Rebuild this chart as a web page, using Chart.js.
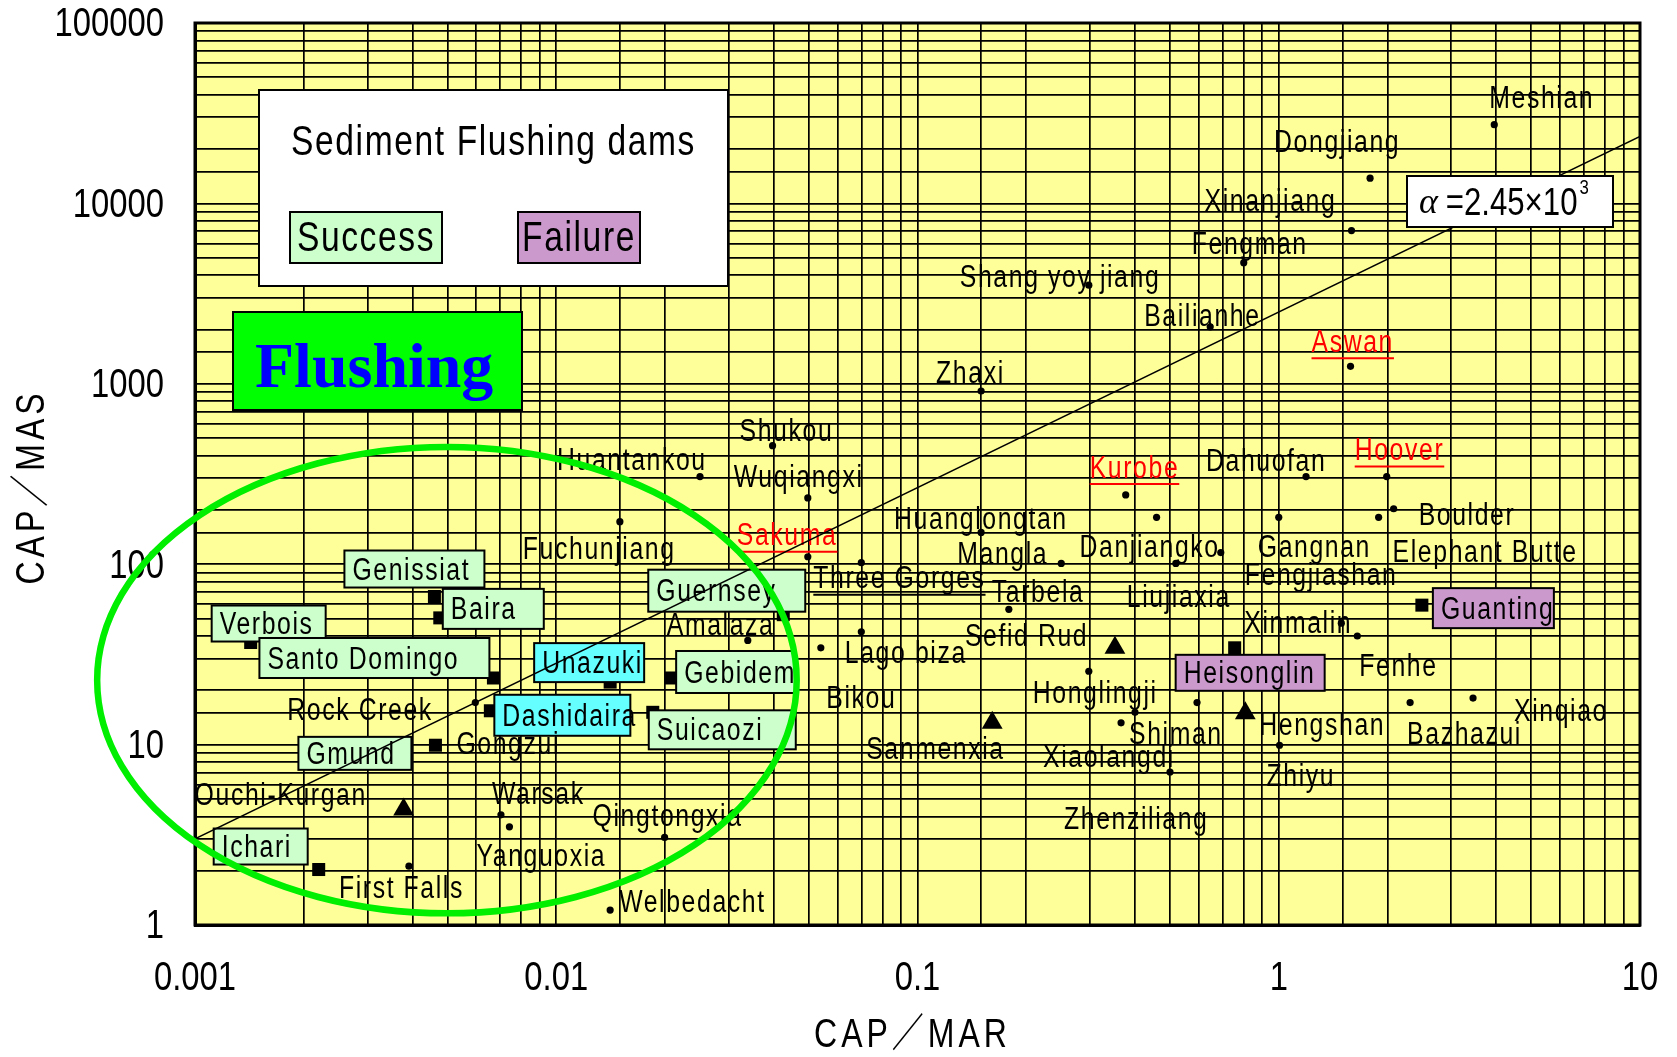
<!DOCTYPE html>
<html>
<head>
<meta charset="utf-8">
<title>Sediment flushing dams</title>
<script src="https://cdn.jsdelivr.net/npm/chart.js@4.4.1/dist/chart.umd.min.js"></script>
<style>
  html, body { margin: 0; padding: 0; background: #fff; }
  canvas { display: block; }
</style>
</head>
<body>
<canvas id="flushing-chart" width="1677" height="1057"></canvas>
<script>
// dam name, CAP/MAR, CAP/MAS, plotted symbol
const damNames = [
  'Meshian', 'Dongjiang', 'Xinanjiang', 'Fengman', 'Shang yoy jiang', 'Bailianhe', 'Aswan', 'Zhaxi',
  'Shukou', 'Huantankou', 'Wuqiangxi', 'Kurobe', 'Dahuofan', 'Hoover', 'Boulder', 'Elephant Butte',
  'Huanglongtan', 'Fuchunjiang', 'Sakuma', 'Mangla', 'Danjiangko', 'Gangnan', 'Fengjiashan', 'Liujiaxia',
  'Three Gorges', 'Tarbela', 'Amalaza', 'Lago biza', 'Bikou', 'Sefid Rud', 'Honglingji', 'Sanmenxia',
  'Xiaolangdi', 'Shiman', 'Hengshan', 'Zhiyu', 'Zhenziliang', 'Xinmalin', 'Fenhe', 'Bazhazui',
  'Xinqiao', '', 'Verbois', 'Genissiat', 'Baira', 'Santo Domingo', 'Unazuki', 'Guernsey',
  'Gebidem', 'Dashidaira', 'Suicaozi', 'Gmund', 'Rock Creek', 'Gongzui', 'Ouchi-Kurgan', 'Warsak',
  'Yanguoxia', 'Ichari', 'First Falls', 'Qingtongxia', 'Welbedacht', 'Heisonglin', 'Guanting'
];
const capMar = [
  3.95, 1.79, 1.59, 0.80, 0.298, 0.646, 1.58, 0.150,
  0.0397, 0.025, 0.0497, 0.377, 1.19, 1.99, 2.08, 1.89,
  0.150, 0.0150, 0.0497, 0.25, 0.459, 1.0, 0.691, 0.519,
  0.0699, 0.179, 0.0339, 0.054, 0.0699, 0.352, 0.298, 0.161,
  0.366, 0.40, 0.808, 1.005, 0.50, 1.49, 1.65, 2.31,
  3.45, 0.594, 0.001426, 0.0046, 0.00476, 0.0067, 0.0141, 0.0425,
  0.0208, 0.00657, 0.0185, 0.00278, 0.00597, 0.00463, 0.00378, 0.00703,
  0.00742, 0.0022, 0.00391, 0.01995, 0.0141, 0.755, 2.49
];
const capMas = [
  27300, 13800, 7070, 4690, 3520, 2070, 1250, 912,
  454, 306, 233, 242, 306, 306, 203, 182,
  150, 172, 110, 101, 182, 182, 116, 101,
  102, 56.2, 37.8, 34.4, 42.2, 34.4, 25.5, 13.2,
  13.2, 15.1, 14.9, 9.92, 7.05, 47.1, 40, 17.1,
  18.1, 17.1, 36.8, 66.2, 50.4, 23.4, 22.2, 52.5,
  23.4, 15.4, 15.1, 9.0, 17.1, 9.92, 4.37, 4.08,
  3.5, 2.03, 2.12, 3.06, 1.21, 34.4, 59.3
];
const damSymbol = [
  'dot', 'dot', 'dot', 'dot', 'dot', 'dot', 'dot', 'dot',
  'dot', 'dot', 'dot', 'dot', 'dot', 'dot', 'dot', 'dot',
  'dot', 'dot', 'dot', 'dot', 'dot', 'dot', 'dot', 'dot',
  'dot', 'dot', 'dot', 'dot', 'dot', 'triangle', 'dot', 'triangle',
  'dot', 'dot', 'triangle', 'dot', 'dot', 'dot', 'dot', 'dot',
  'dot', 'dot', 'square', 'square', 'square', 'square', 'square', 'square',
  'square', 'square', 'square', 'square', 'dot', 'square', 'triangle', 'dot',
  'dot', 'square', 'dot', 'dot', 'dot', 'square', 'square'
];

// alpha = 2.45e3 boundary line, end points
const boundaryX = [0.001, 10];
const boundaryY = [3.0, 23500];
const boundaryText = '2.45\u00d710';

// flushing zone ring, extent in axis units
const ringX = [0.000536, 0.0463];
const ringY = [1.16, 447];

const axisX = { min: 0.001, max: 10, title: 'CAP\uff0fMAR' };
const axisY = { min: 1, max: 100000, title: 'CAP\uff0fMAS' };

// label placement: [dx, dy, kind, boxWidth, boxHeight] relative to the marker
const labelLayout = {
  'Meshian': [-5, -27], 'Dongjiang': [-96, -37], 'Xinanjiang': [-147, -30], 'Fengman': [-52, -19],
  'Shang yoy jiang': [-129, -9], 'Bailianhe': [-66, -11], 'Aswan': [-39, -25, 'red'], 'Zhaxi': [-45, -19],
  'Shukou': [-33, -15], 'Huantankou': [-143, -17], 'Wuqiangxi': [-74, -21], 'Kurobe': [-36, -28, 'red'],
  'Dahuofan': [-100, -16], 'Hoover': [-32, -27, 'red'], 'Boulder': [25, 6], 'Elephant Butte': [14, 34],
  'Huanglongtan': [-87, -14], 'Fuchunjiang': [-97, 27], 'Sakuma': [-71, -22, 'red'], 'Mangla': [-104, -10],
  'Danjiangko': [-77, 29], 'Gangnan': [-21, 29], 'Fengjiashan': [24, 22], 'Liujiaxia': [-49, 33],
  'Three Gorges': [-48, 15, 'under'], 'Tarbela': [-17, -18], 'Amalaza': [-81, -16], 'Lago biza': [24, 5],
  'Bikou': [-35, 66], 'Sefid Rud': [-150, -12], 'Honglingji': [-56, 21], 'Sanmenxia': [-126, 26],
  'Xiaolangdi': [-78, 34], 'Shiman': [-6, 21], 'Hengshan': [14, 11], 'Zhiyu': [-13, 30],
  'Zhenziliang': [-106, 46], 'Xinmalin': [-97, -1], 'Fenhe': [2, 29], 'Bazhazui': [-3, 31],
  'Xinqiao': [41, 12], 'Rock Creek': [-188, 7], 'Gongzui': [21, -2], 'Ouchi-Kurgan': [-209, -15],
  'Warsak': [-9, -21], 'Yanguoxia': [-33, 29], 'First Falls': [-70, 21], 'Qingtongxia': [-72, -22],
  'Welbedacht': [9, -9],
  'Verbois': [-39, -37, 'success', 114, 36], 'Genissiat': [-90, -46, 'success', 140, 37],
  'Baira': [3, -29, 'success', 101, 40], 'Santo Domingo': [-234, -40, 'success', 230, 40],
  'Unazuki': [-76, -39, 'cyan', 110, 39], 'Guernsey': [-135, -45, 'success', 157, 42],
  'Gebidem': [5, -27, 'success', 119, 42], 'Dashidaira': [4, -16, 'cyan', 136, 41],
  'Suicaozi': [-4, -2, 'success', 147, 39], 'Gmund': [-57, -16, 'success', 113, 33],
  'Ichari': [-105, -41, 'success', 94, 36], 'Heisonglin': [-59, 7, 'failure', 149, 36],
  'Guanting': [11, -17, 'failure', 121, 40]
};

const boxFill = { success: '#ccffcc', failure: '#cc99cc', cyan: '#66ffff' };
const SANS = '"Liberation Sans", Arial, "Noto Sans CJK JP", sans-serif';
const LABEL_FONT = '31px ' + SANS;
const SQUEEZE = 0.8;   // horizontal squeeze for the tall narrow lettering

function pointsFor(symbol) {
  const pts = [];
  damNames.forEach((name, i) => {
    if (damSymbol[i] === symbol) pts.push({ x: capMar[i], y: capMas[i] });
  });
  return pts;
}

function decadeLabel(value) {
  const e = Math.log10(value);
  return Math.abs(e - Math.round(e)) < 1e-6 ? String(Number(value.toPrecision(1))) : '';
}

// text drawn squeezed sideways; returns drawn width
function drawText(ctx, text, x, y, color, underline, sx) {
  const k = sx || SQUEEZE;
  ctx.save();
  ctx.translate(x, y);
  ctx.scale(k, 1);
  ctx.fillStyle = color;
  ctx.fillText(text, 0, 0);
  const w = ctx.measureText(text).width * k;
  ctx.restore();
  if (underline) {
    ctx.strokeStyle = color;
    ctx.lineWidth = 2;
    ctx.beginPath();
    ctx.moveTo(x, y + 15);
    ctx.lineTo(x + w, y + 15);
    ctx.stroke();
  }
  return w;
}

function drawBox(ctx, x, y, w, h, fill, lw) {
  ctx.fillStyle = fill;
  ctx.fillRect(x, y, w, h);
  ctx.strokeStyle = '#000';
  ctx.lineWidth = lw || 2;
  ctx.strokeRect(x, y, w, h);
}

function drawDamLabels(chart) {
  const ctx = chart.ctx;
  const xs = chart.scales.x, ys = chart.scales.y;
  ctx.save();
  ctx.font = LABEL_FONT;
  ctx.letterSpacing = '2px';
  ctx.textBaseline = 'middle';
  damNames.forEach((name, i) => {
    const spec = labelLayout[name];
    if (!spec) return;
    const px = xs.getPixelForValue(capMar[i]);
    const py = ys.getPixelForValue(capMas[i]);
    const [dx, dy, kind, w, h] = spec;
    if (boxFill[kind]) {
      drawBox(ctx, px + dx, py + dy, w, h, boxFill[kind], 2);
      drawText(ctx, name, px + dx + 8, py + dy + h / 2 + 2, '#000');
    } else if (kind === 'red') {
      drawText(ctx, name, px + dx, py + dy + 2, '#ff0000', true);
    } else {
      drawText(ctx, name, px + dx, py + dy + 2, '#000', kind === 'under');
    }
  });
  ctx.restore();
}

// decade numbers along both axes, placed by the scales
function drawTickLabels(chart) {
  const ctx = chart.ctx;
  const xs = chart.scales.x, ys = chart.scales.y;
  ctx.save();
  ctx.font = '41px ' + SANS;
  ctx.textBaseline = 'middle';
  ctx.textAlign = 'center';
  xs.ticks.forEach((t, i) => {
    const s = decadeLabel(t.value);
    if (s) drawText(ctx, s, xs.getPixelForTick(i), xs.top + 54, '#000');
  });
  ctx.textAlign = 'right';
  ys.ticks.forEach((t, i) => {
    const s = decadeLabel(t.value);
    if (s) drawText(ctx, s, ys.right - 31, ys.getPixelForTick(i) + 2, '#000');
  });
  ctx.restore();
}

const trendIndex = 3;

const annotations = {
  id: 'damAnnotations',
  beforeDraw(chart) {
    const { ctx, chartArea: a } = chart;
    ctx.save();
    ctx.fillStyle = '#ffff99';
    ctx.fillRect(a.left, a.top, a.right - a.left, a.bottom - a.top);
    ctx.restore();
  },
  beforeDatasetDraw(chart, args) {
    if (args.index === trendIndex) drawDamLabels(chart);
  },
  afterDatasetsDraw(chart) {
    const { ctx, chartArea: a } = chart;
    const xs = chart.scales.x, ys = chart.scales.y;
    ctx.save();

    // frame round the plot
    ctx.strokeStyle = '#000';
    ctx.lineWidth = 3;
    ctx.strokeRect(a.left, a.top, a.right - a.left, a.bottom - a.top);

    drawTickLabels(chart);

    // flushing zone ring
    const x0 = xs.getPixelForValue(ringX[0]), x1 = xs.getPixelForValue(ringX[1]);
    const y0 = ys.getPixelForValue(ringY[0]), y1 = ys.getPixelForValue(ringY[1]);
    ctx.strokeStyle = '#00ee00';
    ctx.lineWidth = 6.5;
    ctx.beginPath();
    ctx.ellipse((x0 + x1) / 2, (y0 + y1) / 2, (x1 - x0) / 2, (y0 - y1) / 2, 0, 0, Math.PI * 2);
    ctx.stroke();

    ctx.textBaseline = 'middle';

    // legend panel
    drawBox(ctx, a.left + 64, a.top + 67, 469, 196, '#fff', 2);
    ctx.font = '42px ' + SANS;
    ctx.letterSpacing = '2px';
    drawText(ctx, 'Sediment Flushing dams', a.left + 96, a.top + 120, '#000');
    drawBox(ctx, a.left + 95, a.top + 189, 152, 51, boxFill.success, 2);
    drawBox(ctx, a.left + 323, a.top + 189, 122, 51, boxFill.failure, 2);
    ctx.textAlign = 'center';
    drawText(ctx, 'Success', a.left + 171, a.top + 216, '#000');
    drawText(ctx, 'Failure', a.left + 384, a.top + 216, '#000');
    ctx.textAlign = 'left';

    // flushing tag
    drawBox(ctx, a.left + 38, a.top + 289, 289, 98, '#00ff00', 2);
    ctx.letterSpacing = '0px';
    ctx.font = 'bold 64px "Liberation Serif", "Times New Roman", serif';
    drawText(ctx, 'Flushing', a.left + 60, a.top + 347, '#0000ff', false, 1);

    // alpha tag for the boundary line
    drawBox(ctx, a.left + 1212, a.top + 153, 206, 51, '#fff', 2);
    ctx.font = 'italic 36px "Liberation Serif", serif';
    drawText(ctx, '\u03b1', a.left + 1224, a.top + 181, '#000', false, 1);
    ctx.font = '39px ' + SANS;
    const tw = drawText(ctx, ' =' + boundaryText, a.left + 1242, a.top + 181, '#000');
    ctx.font = '21px ' + SANS;
    drawText(ctx, '3', a.left + 1244 + tw, a.top + 165, '#000');

    // axis titles
    ctx.font = '40px ' + SANS;
    ctx.letterSpacing = '5px';
    ctx.textAlign = 'center';
    drawText(ctx, axisX.title, (a.left + a.right) / 2 - 5, 1036, '#000');
    ctx.translate(33, 487);
    ctx.rotate(-Math.PI / 2);
    drawText(ctx, axisY.title, 0, 0, '#000');
    ctx.restore();
  }
};

new Chart(document.getElementById('flushing-chart'), {
  type: 'scatter',
  data: {
    datasets: [
      {
        label: 'dot', data: pointsFor('dot'), order: 2,
        pointStyle: 'circle', pointRadius: 3.6, backgroundColor: '#000', borderWidth: 0
      },
      {
        label: 'square', data: pointsFor('square'), order: 2,
        pointStyle: 'rect', pointRadius: 9.2, backgroundColor: '#000', borderWidth: 0
      },
      {
        label: 'triangle', data: pointsFor('triangle'), order: 2,
        pointStyle: 'triangle', pointRadius: 12, backgroundColor: '#000', borderWidth: 0
      },
      {
        label: 'alpha', order: 1, showLine: true,
        data: boundaryX.map((x, i) => ({ x, y: boundaryY[i] })),
        borderColor: '#000', borderWidth: 1.5, pointRadius: 0
      }
    ]
  },
  options: {
    responsive: false,
    animation: false,
    devicePixelRatio: 1,
    layout: { padding: { top: 23, right: 37, left: 0, bottom: 0 } },
    plugins: { legend: { display: false }, tooltip: { enabled: false } },
    scales: {
      x: {
        type: 'logarithmic', min: axisX.min, max: axisX.max,
        afterFit(scale) { scale.height = 132; },
        grid: { color: '#000', lineWidth: 1.7, drawTicks: false },
        border: { color: '#000', width: 3 },
        ticks: { display: false, autoSkip: false }
      },
      y: {
        type: 'logarithmic', min: axisY.min, max: axisY.max,
        afterFit(scale) { scale.width = 195; },
        grid: { color: '#000', lineWidth: 1.7, drawTicks: false },
        border: { color: '#000', width: 3 },
        ticks: { display: false, autoSkip: false }
      }
    }
  },
  plugins: [annotations]
});
</script>
</body>
</html>
